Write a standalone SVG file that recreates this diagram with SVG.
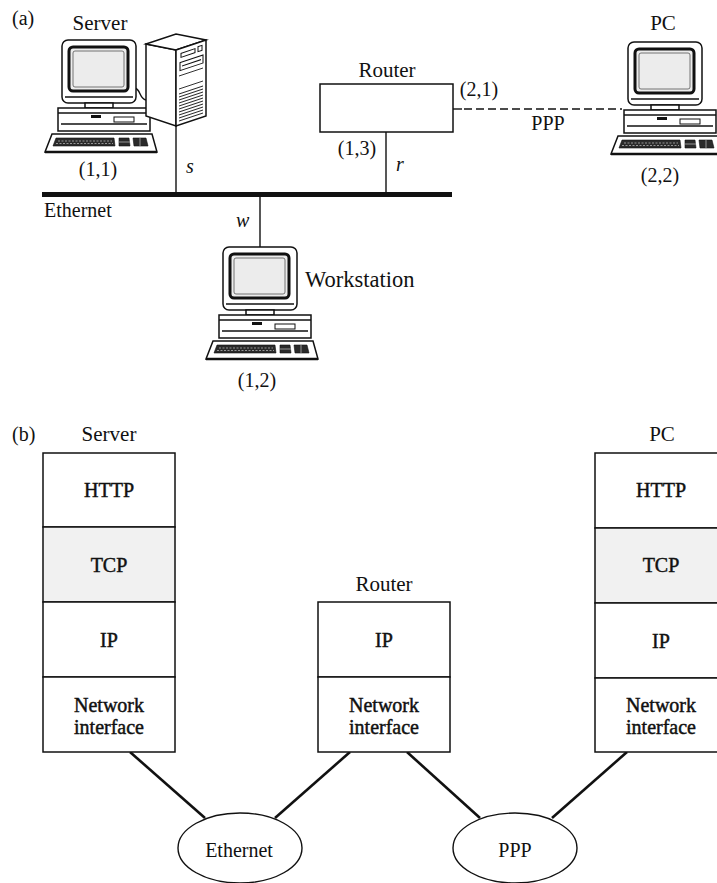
<svg xmlns="http://www.w3.org/2000/svg" width="717" height="883" viewBox="0 0 717 883" font-family="'Liberation Serif', 'Times New Roman', 'DejaVu Serif', serif">
  <style>
    text { font-family: 'Liberation Serif', 'Times New Roman', 'DejaVu Serif', serif; font-size: 20px; fill: #111; }
    .lbl { font-size: 21px; }
    .mid { text-anchor: middle; }
    .it { font-style: italic; }
    .layer { font-size: 20px; stroke: #111; stroke-width: 0.45; }
    .ln { fill: none; stroke: #111; stroke-width: 1.4; }
    .box { fill: #fff; stroke: #111; stroke-width: 1.5; }
    .shade { fill: #f1f1f1; stroke: #111; stroke-width: 1.5; }
    .link { fill: none; stroke: #111; stroke-width: 2.6; }
    .oval { fill: #fff; stroke: #111; stroke-width: 1.4; }
    .dark { fill: #2a2a2a; stroke: #111; stroke-width: 0.6; }
  </style>
  <defs>
    <!-- desktop computer: monitor, system unit and keyboard; origin at monitor top-left -->
    <g id="computer-art">
      <rect x="0" y="0" width="74" height="63" rx="6" class="box"/>
      <line x1="3" y1="57" x2="71" y2="57" class="ln" stroke-width="1"/>
      <rect x="7" y="7" width="59" height="44" rx="4" fill="#ececec" stroke="#111" stroke-width="3"/>
      <rect x="11" y="11" width="51" height="36" rx="2" fill="none" stroke="#555" stroke-width="0.8"/>
      <rect x="23" y="63" width="28" height="5" class="box" stroke-width="1.2"/>
      <path d="M-4,68 H88 V91 H-4 Z" class="box"/>
      <line x1="-4" y1="73" x2="88" y2="73" class="ln" stroke-width="1"/>
      <line x1="-1" y1="84" x2="85" y2="84" class="ln" stroke-width="0.8"/>
      <rect x="29" y="75" width="10" height="3" fill="#111"/>
      <rect x="52" y="77" width="20" height="5" fill="#fff" stroke="#111" stroke-width="1"/>
      <path d="M-10,94 H90 L95,112 H-17 Z" class="box"/>
      <line x1="-17" y1="112" x2="95" y2="112" stroke="#111" stroke-width="2.6"/>
      <path d="M-6,98 H52 L53,106 H-9 Z" class="dark"/>
      <path d="M-4,101 H50 M-6,103.5 H51" stroke="#ddd" stroke-width="0.6" stroke-dasharray="2 1.5"/>
      <path d="M57,98 H67 L68,106 H57 Z" class="dark"/>
      <path d="M71,98 H84 L86,106 H72 Z" class="dark"/>
      <path d="M57,102 H68 M78,98 V106" stroke="#ddd" stroke-width="0.6"/>
    </g>
  </defs>

  <rect x="0" y="0" width="717" height="883" fill="#fff"/>

  <!-- part (a): physical network -->
  <text x="12" y="25">(a)</text>

  <g id="connectors-a">
    <line x1="42" y1="194.5" x2="452" y2="194.5" stroke="#111" stroke-width="5"/>
    <line x1="176" y1="126" x2="176" y2="194" class="ln"/>
    <line x1="386" y1="132" x2="386" y2="194" class="ln"/>
    <line x1="260" y1="196" x2="260" y2="247" class="ln"/>
    <line x1="453" y1="109" x2="462" y2="109" class="ln" stroke-width="1.6"/>
    <line x1="464" y1="109" x2="622" y2="109" class="ln" stroke-width="1.6" stroke-dasharray="8 4"/>
    <path d="M135,88 C141,90 139,98 146,100" class="ln" stroke-width="1.2"/>
  </g>

  <g id="server-a">
    <text x="100" y="30" class="lbl mid">Server</text>
    <use href="#computer-art" x="62" y="40"/>
    <!-- tower cabinet -->
    <polygon points="146,44 176,50 176,126 146,116" class="box"/>
    <polygon points="146,44 176,34 206,40 176,50" class="box"/>
    <polygon points="176,50 206,40 206,116 176,126" class="box"/>
    <g transform="matrix(1,-0.333,0,1,176,50)">
      <rect x="5" y="5" width="14" height="4" fill="#fff" stroke="#111" stroke-width="1"/>
      <rect x="22" y="4" width="4" height="5" fill="#fff" stroke="#111" stroke-width="1"/>
      <rect x="4" y="14" width="23" height="8" fill="#fff" stroke="#111" stroke-width="1"/>
      <line x1="6" y1="18" x2="25" y2="18" stroke="#111" stroke-width="1.2"/>
      <line x1="3" y1="27" x2="27" y2="27" stroke="#111" stroke-width="0.8"/>
      <line x1="3" y1="40" x2="27" y2="40" stroke="#111" stroke-width="0.8"/>
      <path d="M3,45 H27 M3,48 H27 M3,51 H27 M3,54 H27 M3,57 H27 M3,60 H27 M3,63 H27 M3,66 H27 M3,69 H27 M3,72 H27" stroke="#222" stroke-width="1.1"/>
    </g>
    <text x="98" y="176" class="mid">(1,1)</text>
    <text x="186" y="173" class="it">s</text>
  </g>

  <g id="router-a">
    <text x="387" y="77" class="lbl mid">Router</text>
    <rect x="320" y="84" width="133" height="48" class="box"/>
    <text x="357" y="155" class="mid">(1,3)</text>
    <text x="396" y="171" class="it">r</text>
    <text x="479" y="96" class="mid">(2,1)</text>
    <text x="548" y="130" class="mid">PPP</text>
  </g>

  <g id="pc-a">
    <text x="663" y="30" class="lbl mid">PC</text>
    <use href="#computer-art" x="628" y="42"/>
    <text x="660" y="182" class="mid">(2,2)</text>
  </g>

  <g id="ethernet-a">
    <text x="44" y="217">Ethernet</text>
  </g>

  <g id="workstation-a">
    <text x="236" y="227" class="it">w</text>
    <use href="#computer-art" x="223" y="247"/>
    <text x="305" y="287" class="lbl" style="font-size:22.5px">Workstation</text>
    <text x="257" y="387" class="mid">(1,2)</text>
  </g>

  <!-- part (b): protocol layers -->
  <text x="12" y="441">(b)</text>

  <g id="connectors-b">
    <line x1="130" y1="752" x2="205" y2="818" class="link"/>
    <line x1="350" y1="752" x2="275" y2="818" class="link"/>
    <line x1="407" y1="752" x2="480" y2="818" class="link"/>
    <line x1="627" y1="752" x2="552" y2="818" class="link"/>
  </g>

  <g id="server-stack">
    <text x="109" y="441" class="lbl mid">Server</text>
    <rect x="43" y="453" width="132" height="74" class="box"/>
    <rect x="43" y="527" width="132" height="75" class="shade"/>
    <rect x="43" y="602" width="132" height="75" class="box"/>
    <rect x="43" y="677" width="132" height="75" class="box"/>
    <text x="109" y="497" class="layer mid">HTTP</text>
    <text x="109" y="572" class="layer mid">TCP</text>
    <text x="109" y="647" class="layer mid">IP</text>
    <text x="109" y="712" class="layer mid">Network</text>
    <text x="109" y="734" class="layer mid">interface</text>
  </g>

  <g id="router-stack">
    <text x="384" y="591" class="lbl mid">Router</text>
    <rect x="318" y="602" width="132" height="75" class="box"/>
    <rect x="318" y="677" width="132" height="75" class="box"/>
    <text x="384" y="647" class="layer mid">IP</text>
    <text x="384" y="712" class="layer mid">Network</text>
    <text x="384" y="734" class="layer mid">interface</text>
  </g>

  <g id="pc-stack">
    <text x="662" y="441" class="lbl mid">PC</text>
    <rect x="595" y="453" width="132" height="75" class="box"/>
    <rect x="595" y="528" width="132" height="75" class="shade"/>
    <rect x="595" y="603" width="132" height="75" class="box"/>
    <rect x="595" y="678" width="132" height="74" class="box"/>
    <text x="661" y="497" class="layer mid">HTTP</text>
    <text x="661" y="572" class="layer mid">TCP</text>
    <text x="661" y="648" class="layer mid">IP</text>
    <text x="661" y="712" class="layer mid">Network</text>
    <text x="661" y="734" class="layer mid">interface</text>
  </g>

  <g id="ethernet-b">
    <ellipse cx="240" cy="848" rx="62" ry="35" class="oval"/>
    <text x="239" y="857" class="mid">Ethernet</text>
  </g>

  <g id="ppp-b">
    <ellipse cx="515" cy="848" rx="62" ry="35" class="oval"/>
    <text x="515" y="857" class="mid">PPP</text>
  </g>
</svg>
